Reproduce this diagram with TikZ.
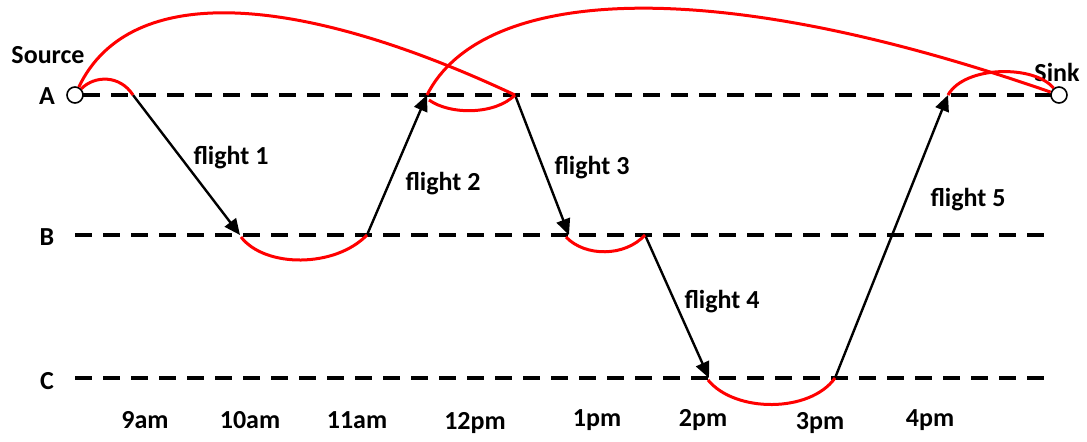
\documentclass[tikz,border=0pt]{standalone}
\usepackage{fontspec}
\setmainfont{Carlito}
\usetikzlibrary{arrows.meta}
\definecolor{waitred}{RGB}{255, 0, 0}
\definecolor{darktext}{RGB}{0, 0, 0}
\tikzset{
	timeline/.style={line width=2pt, dash pattern=on 8.5pt off 5.5pt},
	flight/.style={line width=1.2pt, -{Triangle[length=8pt,width=7pt]}},
	wait/.style={waitred, line width=1.5pt},
	endpoint/.style={circle, draw, fill=white, line width=0.8pt, inner sep=0pt, minimum size=8pt},
	lbl/.style={text=darktext, font=\fontsize{13}{15}\selectfont\bfseries}
}
\begin{document}
\begin{tikzpicture}[x=0.5pt, y=-0.5pt]
	\useasboundingbox (0,0) rectangle (1087,441);
	% timelines
	\draw[timeline] (83,95) -- (1051,95);
	\draw[timeline] (75,235) -- (1051,235);
	\draw[timeline] (75,378) -- (1051,378);
	\node[lbl] (rowA) at (47,96) {A};
	\node[lbl] (rowB) at (47,237) {B};
	\node[lbl] (rowC) at (47,381) {C};
	\node[endpoint] (source) at (75,95) {};
	\node[endpoint] (sink) at (1059,95) {};
	\node[lbl] (sourcelbl) at (48,55) {Source};
	\node[lbl] (sinklbl) at (1057,72) {Sink};
	% events
	\coordinate (a1) at (133,95);
	\coordinate (a2) at (427,95);
	\coordinate (a3) at (515,95);
	\coordinate (a4) at (948,95);
	\coordinate (b1) at (240,235);
	\coordinate (b2) at (367,235);
	\coordinate (b3) at (569,235);
	\coordinate (b4) at (645,235);
	\coordinate (c1) at (709,378);
	\coordinate (c2) at (835,378);
	% flights
	\draw[flight] (a1) -- (b1);
	\draw[flight] (b2) -- (a2);
	\draw[flight] (a3) -- (b3);
	\draw[flight] (b4) -- (c1);
	\draw[flight] (c2) -- (a4);
	\node[lbl] (f1) at (231,158) {flight 1};
	\node[lbl] (f2) at (443,184) {flight 2};
	\node[lbl] (f3) at (592,168) {flight 3};
	\node[lbl] (f4) at (722,302) {flight 4};
	\node[lbl] (f5) at (968,200) {flight 5};
	% waiting arcs
	\draw[wait] (source) .. controls (95,75) and (120,75) .. (a1);
	\draw[wait] (source) .. controls (130,-20) and (300,-6) .. (a3);
	\draw[wait] (a2) .. controls (480,-10) and (700,-30) .. (sink);
	\draw[wait] (429,100) .. controls (450,115) and (495,115) .. (a3);
	\draw[wait] (a4) .. controls (965,65) and (1035,65) .. (sink);
	\draw[wait] (241,237) .. controls (265,268) and (335,268) .. (b2);
	\draw[wait] (566,237) .. controls (585,257) and (625,257) .. (b4);
	\draw[wait] (708,380) .. controls (735,413) and (810,413) .. (c2);
	% times
	\foreach \t/\x/\y in {9am/145/420, 10am/250/420, 11am/357/420, 12pm/475/423,
		1pm/597/420, 2pm/703/420, 3pm/820/423, 4pm/930/420} {
		\node[lbl] (t\x) at (\x,\y) {\t};
	}
\end{tikzpicture}
\end{document}
